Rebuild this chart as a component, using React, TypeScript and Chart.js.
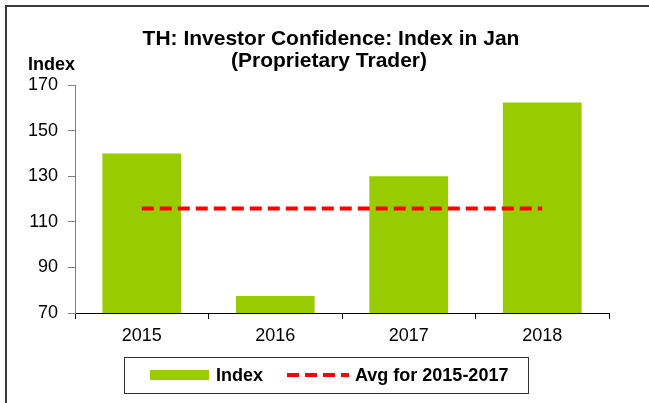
import React, { useEffect, useRef } from "react";
import { Chart, registerables } from "chart.js";

Chart.register(...registerables);

const categories = ["2015", "2016", "2017", "2018"];
const indexValues = [140, 77.5, 130, 162.3];
const avgValues = [115.8, 115.8, 115.8, 115.8];
const yTicks = [70, 90, 110, 130, 150, 170];
const titleLines = ["TH: Investor Confidence: Index in Jan", "(Proprietary Trader)"];
const seriesNames = ["Index", "Avg for 2015-2017"];
const yAxisLabel = "Index";

const FONT = "'Liberation Sans', Arial, sans-serif";

const decorPlugin = {
  id: "decor",
  afterDraw(chart: any) {
    const ctx = chart.ctx as CanvasRenderingContext2D;
    ctx.save();
    // outer frame (left and top)
    ctx.fillStyle = "#3a3a3a";
    ctx.fillRect(5, 5, 644, 2);
    ctx.fillRect(5, 5, 2, 398);

    // title
    ctx.fillStyle = "#000";
    ctx.font = `bold 21px ${FONT}`;
    ctx.textAlign = "center";
    ctx.textBaseline = "alphabetic";
    ctx.fillText(titleLines[0], 331, 45);
    ctx.fillText(titleLines[1], 329, 67);

    // y axis label
    ctx.font = `bold 18px ${FONT}`;
    ctx.textAlign = "left";
    ctx.fillText(yAxisLabel, 28, 70);

    // legend
    const ds = chart.data.datasets;
    ctx.strokeStyle = "#333";
    ctx.lineWidth = 1;
    ctx.strokeRect(124.5, 357.5, 404, 36);
    const cy = 375;
    ctx.fillStyle = ds[0].backgroundColor;
    ctx.fillRect(150, 370, 59, 10);
    ctx.fillStyle = "#000";
    ctx.font = `bold 18px ${FONT}`;
    ctx.textBaseline = "middle";
    ctx.fillText(ds[0].label, 216, cy + 1);
    ctx.strokeStyle = ds[1].borderColor;
    ctx.lineWidth = 4;
    ctx.setLineDash([12, 6]);
    ctx.beginPath();
    ctx.moveTo(287, cy);
    ctx.lineTo(349, cy);
    ctx.stroke();
    ctx.setLineDash([]);
    ctx.fillText(ds[1].label, 355, cy + 1);
    ctx.restore();
  },
};

export default function App() {
  const ref = useRef<HTMLCanvasElement>(null);
  useEffect(() => {
    document.body.style.margin = "0";
    const chart = new Chart(ref.current!, {
      type: "bar",
      data: {
        labels: categories,
        datasets: [
          {
            type: "bar",
            label: seriesNames[0],
            data: indexValues,
            backgroundColor: "#99CC00",
            borderWidth: 0,
            barPercentage: 0.59,
            categoryPercentage: 1,
            order: 2,
          },
          {
            type: "line",
            label: seriesNames[1],
            data: avgValues,
            borderColor: "#FF0000",
            borderWidth: 4,
            borderDash: [12, 6],
            pointRadius: 0,
            fill: false,
            order: 1,
          } as any,
        ],
      },
      options: {
        responsive: false,
        animation: false,
        devicePixelRatio: 1,
        layout: { padding: { left: 10, right: 40, top: 85, bottom: 60 } },
        plugins: {
          legend: { display: false },
          title: { display: false },
          tooltip: { enabled: false },
        },
        scales: {
          x: {
            offset: true,
            grid: {
              offset: true,
              drawOnChartArea: false,
              drawTicks: true,
              tickLength: 6,
              color: "#000",
            },
            border: { color: "#000", width: 1 },
            ticks: {
              color: "#000",
              font: { family: FONT, size: 18 },
              padding: 6,
            },
            afterFit: (s: any) => {
              s.height = 30;
            },
          },
          y: {
            min: 70,
            max: 170,
            afterBuildTicks: (s: any) => {
              s.ticks = yTicks.map((v) => ({ value: v }));
            },
            grid: {
              drawOnChartArea: false,
              drawTicks: true,
              tickLength: 7,
              color: "#808080",
            },
            border: { color: "#808080", width: 1 },
            ticks: {
              color: "#000",
              font: { family: FONT, size: 18 },
              padding: 10,
            },
            afterFit: (s: any) => {
              s.width = 65;
            },
          },
        },
      },
      plugins: [decorPlugin],
    });
    return () => chart.destroy();
  }, []);
  return (
    <div style={{ width: 649, height: 403 }}>
      <canvas ref={ref} width={649} height={403} style={{ display: "block" }} />
    </div>
  );
}
